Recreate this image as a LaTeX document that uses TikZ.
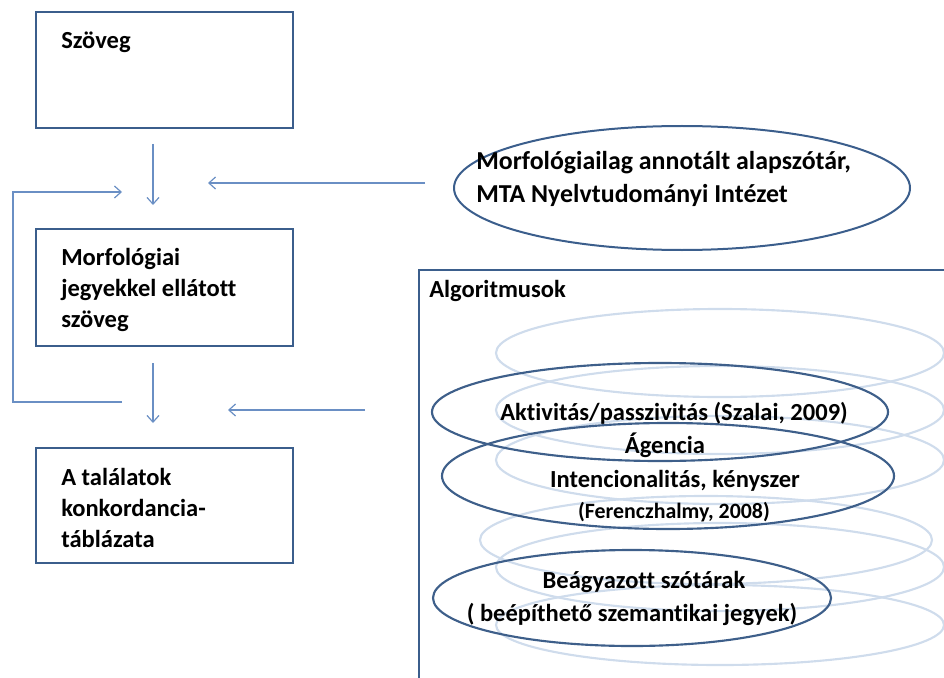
\documentclass[tikz,border=0pt]{standalone}
\usepackage{fontspec}
\setmainfont{Carlito}[Ligatures={NoCommon}]
\usetikzlibrary{arrows.meta,shapes.geometric}
\definecolor{boxc}{HTML}{3B5E8C}
\definecolor{arrc}{HTML}{6A8FC4}
\definecolor{faint}{HTML}{CFDCEC}
\definecolor{ellc}{HTML}{3E5F8A}
\begin{document}
\begin{tikzpicture}[x=0.75pt,y=-0.75pt,
  every node/.style={font=\bfseries\fontsize{18.4}{23.25}\selectfont, inner sep=0pt},
  box/.style={draw=boxc, line width=1.5pt, rectangle},
  arr/.style={draw=arrc, line width=0.9pt, -{Straight Barb[length=5pt,width=9pt]}},
  fell/.style={draw=faint, line width=1.6pt},
  dell/.style={draw=ellc, line width=1.6pt},
  lbl/.style={align=left, anchor=west},
  clbl/.style={align=center}]
\useasboundingbox (0,0) rectangle (944,677);
\clip (0,0) rectangle (944,677);
% left boxes
\node[box, minimum width=192.75pt, minimum height=87pt] (szoveg) at (164.5,70) {};
\node[box, minimum width=192.75pt, minimum height=87.75pt] (morf) at (164.5,287.5) {};
\node[box, minimum width=192.75pt, minimum height=86.25pt] (talal) at (164.5,505.5) {};
\node[lbl] (tszoveg) at (61,42) {Szöveg};
\node[lbl] (tmorf) at (61,290) {Morfológiai\\jegyekkel ellátott\\szöveg};
\node[lbl] (ttalal) at (61,508) {A találatok\\konkordancia-\\táblázata};
% dictionary ellipse
\node[ellipse, draw=boxc, line width=1.5pt, minimum width=342pt, minimum height=93pt] (dict) at (682,188) {};
\node[align=left, anchor=west, font=\bfseries\fontsize{19.4}{24.8}\selectfont] (tdict) at (476,179) {Morfológiailag annotált alapszótár,\\MTA Nyelvtudományi Intézet};
% algorithms box
\node[box, anchor=north west, minimum width=450pt, minimum height=330pt] (algo) at (417.5,269) {};
\node[lbl] (talgo) at (429,291) {Algoritmusok};
% faint ellipses
\draw[fell] (720,353) ellipse [x radius=224, y radius=44];
\draw[fell] (720,410) ellipse [x radius=224, y radius=44];
\draw[fell] (720,460) ellipse [x radius=224, y radius=44];
\draw[fell] (706,540) ellipse [x radius=226, y radius=44];
\draw[fell] (720,567) ellipse [x radius=224, y radius=44];
\draw[fell] (720,625) ellipse [x radius=224, y radius=40];
% dark ellipses
\node[ellipse, dell, minimum width=342pt, minimum height=73.5pt] (eakt) at (660,412) {};
\node[ellipse, dell, minimum width=339pt, minimum height=79.5pt] (eint) at (668,476) {};
\node[ellipse, dell, minimum width=298.5pt, minimum height=72pt] (ebea) at (632,598) {};
\node[clbl] (takt) at (674,413) {Aktivitás/passzivitás (Szalai, 2009)};
\node[clbl] (tage) at (665,445) {Ágencia};
\node[clbl] (tint) at (675,481) {Intencionalitás, kényszer};
\node[clbl, font=\bfseries\fontsize{16.4}{20}\selectfont] (tfer) at (674,512) {(Ferenczhalmy, 2008)};
\node[clbl] (tbea) at (644,582) {Beágyazott szótárak};
\node[clbl] (tbee) at (632,614) {( beépíthető szemantikai jegyek)};
% connectors
\coordinate (a1s) at (153,144);
\coordinate (a1e) at (153,205);
\coordinate (a3s) at (153,363);
\coordinate (a3e) at (153,423);
\coordinate (a2s) at (425,183);
\coordinate (a2e) at (208,183);
\coordinate (a4s) at (365,410);
\coordinate (a4e) at (228,410);
\coordinate (fbs) at (122,402);
\coordinate (fbb) at (13,402);
\coordinate (fbt) at (13,192);
\coordinate (fbe) at (122,192);
\draw[arr] (a1s) -- (a1e);
\draw[arr] (a3s) -- (a3e);
\draw[arr] (a2s) -- (a2e);
\draw[arr] (a4s) -- (a4e);
\draw[arr] (fbs) -- (fbb) -- (fbt) -- (fbe);
\end{tikzpicture}
\end{document}
